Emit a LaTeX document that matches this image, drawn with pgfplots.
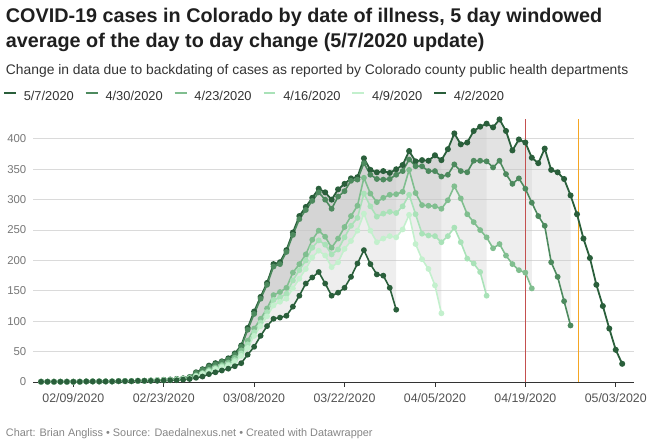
\documentclass[border=0pt]{standalone}
\usepackage{fontspec}
\setmainfont{Liberation Sans}
\usepackage{pgfplots}
\usepackage{pgfplotstable}
\pgfplotsset{compat=1.18}
\usepgfplotslibrary{fillbetween}

\definecolor{cA}{HTML}{2A5F3B}
\definecolor{cB}{HTML}{4D8A5E}
\definecolor{cC}{HTML}{80BE8F}
\definecolor{cD}{HTML}{A9E2B8}
\definecolor{cE}{HTML}{C3F0CD}
\definecolor{bandc}{HTML}{C8C8C8}
\definecolor{gridc}{HTML}{DADADA}
\definecolor{redl}{HTML}{C4504F}
\definecolor{lineorange}{RGB}{245,166,35}
\definecolor{labc}{HTML}{777777}
\definecolor{subc}{HTML}{333333}

% day number: 0 = 02/09/2020
\pgfplotstableread{
d v
-5 0.5
-4 0.5
-3 0.5
-2 0.5
-1 0.5
0 0.5
1 0.5
2 1
3 1
4 1
5 1
6 1
7 1.5
8 1.5
9 1.5
10 2
11 2
12 2.5
13 3
14 3.5
15 4
16 5
17 6
18 8
19 16
20 21
21 27
22 31
23 34
24 39
25 47
26 60
27 89
28 116
29 140
30 163
31 194
32 197
33 217
34 246
35 273
36 288
37 303
38 318
39 312
40 300
41 317
42 326
43 335
44 337
45 368
46 349
47 345
48 347
49 344
50 350
51 357
52 380
53 363
54 365
55 364
56 373
57 365
58 383
59 409
60 391
61 394
62 413
63 420
64 425
65 419
66 432
67 413
68 381
69 399
70 394
71 369
72 360
73 384
74 349
75 345
76 334
77 307
78 276
79 236
80 204
81 160
82 125
83 88
84 53
85 30
}\sMaySeven

\pgfplotstableread{
d v
-5 0.5
-4 0.5
-3 0.5
-2 0.5
-1 0.5
0 0.5
1 0.5
2 1
3 1
4 1
5 1
6 1
7 1.5
8 1.5
9 1.5
10 2
11 2
12 2.5
13 3
14 3.5
15 4
16 5
17 6
18 8
19 15
20 20
21 25
22 29
23 33
24 37
25 45
26 58
27 86
28 112
29 137
30 160
31 190
32 194
33 214
34 242
35 268
36 283
37 298
38 312
39 300
40 285
41 305
42 314
43 331
44 333
45 360
46 341
47 334
48 333
49 334
50 341
51 347
52 366
53 355
54 355
55 347
56 347
57 338
58 341
59 358
60 347
61 345
62 364
63 364
64 363
65 353
66 364
67 342
68 326
69 335
70 318
71 295
72 273
73 257
74 197
75 173
76 133
77 93
}\sAprThirty

\pgfplotstableread{
d v
-5 0.5
-4 0.5
-3 0.5
-2 0.5
-1 0.5
0 0.5
1 0.5
2 1
3 1
4 1
5 1
6 1
7 1.5
8 1.5
9 1.5
10 2
11 2
12 2.5
13 3
14 3
15 3.5
16 4.5
17 5
18 7
19 11
20 15
21 20
22 24
23 28
24 32
25 40
26 52
27 68
28 88
29 104
30 121
31 143
32 148
33 155
34 180
35 194
36 210
37 234
38 249
39 239
40 221
41 236
42 255
43 273
44 290
45 336
46 310
47 296
48 303
49 308
50 309
51 313
52 349
53 311
54 291
55 290
56 289
57 285
58 299
59 322
60 302
61 276
62 263
63 250
64 238
65 220
66 227
67 208
68 194
69 184
70 180
71 154
}\sAprTwentyThree

\pgfplotstableread{
d v
-5 0.5
-4 0.5
-3 0.5
-2 0.5
-1 0.5
0 0.5
1 0.5
2 1
3 1
4 1
5 1
6 1
7 1.5
8 1.5
9 1.5
10 2
11 2
12 2.5
13 3
14 3
15 3.5
16 4
17 5
18 6
19 10
20 14
21 18
22 22
23 26
24 29
25 36
26 47
27 62
28 82
29 98
30 115
31 135
32 139
33 145
34 167
35 184
36 200
37 221
38 233
39 226
40 210
41 218
42 238
43 257
44 270
45 310
46 289
47 272
48 277
49 280
50 278
51 289
52 308
53 276
54 244
55 241
56 240
57 230
58 240
59 254
60 230
61 203
62 195
63 181
64 142
}\sAprSixteen

\pgfplotstableread{
d v
-5 0.5
-4 0.5
-3 0.5
-2 0.5
-1 0.5
0 0.5
1 0.5
2 1
3 1
4 1
5 1
6 1
7 1.5
8 1.5
9 1.5
10 2
11 2
12 2.5
13 3
14 3
15 3.5
16 4
17 5
18 5
19 9
20 13
21 17
22 21
23 24
24 27
25 33
26 43
27 56
28 76
29 92
30 108
31 126
32 132
33 137
34 154
35 170
36 186
37 205
38 216
39 208
40 189
41 197
42 219
43 232
44 249
45 277
46 249
47 230
48 236
49 240
50 238
51 251
52 275
53 227
54 202
55 186
56 159
57 113
}\sAprNine

\pgfplotstableread{
d v
-5 0.5
-4 0.5
-3 0.5
-2 0.5
-1 0.5
0 0.5
1 0.5
2 1
3 1
4 1
5 1
6 1
7 1.5
8 1.5
9 1.5
10 2
11 2
12 2
13 2
14 2.5
15 3
16 3
17 4
18 5
19 7
20 9
21 13
22 16
23 19
24 22
25 26
26 31
27 45
28 58
29 76
30 92
31 104
32 106
33 109
34 124
35 142
36 162
37 172
38 181
39 162
40 142
41 147
42 155
43 173
44 195
45 217
46 194
47 177
48 175
49 155
50 119
}\sAprTwo

\begin{document}
\begin{tikzpicture}
\path (0pt,0pt) rectangle (650pt,450pt);

\node[anchor=base west, inner sep=0pt, font=\fontsize{20}{24}\selectfont\bfseries, text=black!88] at (0pt,427pt) {COVID-19 cases in Colorado by date of illness, 5 day windowed};
\node[anchor=base west, inner sep=0pt, font=\fontsize{20}{24}\selectfont\bfseries, text=black!88] at (0pt,402pt) {average of the day to day change (5/7/2020 update)};
\node[anchor=base west, inner sep=0pt, font=\fontsize{14}{16}\selectfont, text=subc] at (0pt,375pt) {Change in data due to backdating of cases as reported by Colorado county public health departments};
\node[anchor=base west, inner sep=0pt, font=\fontsize{11}{13}\selectfont, text=labc!90] at (0pt,9pt) {Chart: Brian Angliss • Source: Daedalnexus.net • Created with Datawrapper};

\begin{axis}[
  at={(28pt,64pt)}, anchor=south west,
  scale only axis, width=607pt, height=267.8pt,
  xmin=-6.18, xmax=86.86, ymin=0, ymax=436,
  axis lines*=left,
  axis line style={-},
  y axis line style={draw=none},
  x axis line style={draw=subc, line width=0.9pt},
  ytick={0,50,...,400},
  ytick style={draw=none},
  ymajorgrids,
  grid style={draw=gridc, line width=0.8pt},
  xtick={0,14,28,42,56,70,84},
  xticklabels={02/09/2020,02/23/2020,03/08/2020,03/22/2020,04/05/2020,04/19/2020,05/03/2020},
  xtick style={draw=subc, line width=0.8pt},
  tick align=outside,
  major tick length=5pt,
  /pgf/number format/assume math mode=true,
  yticklabel style={font=\fontsize{11.5}{12}\selectfont, text=labc, inner sep=2pt},
  xticklabel style={font=\fontsize{12.5}{14}\selectfont, text=subc!85, yshift=-3pt},
  legend style={at={(-0.056,1.0755)}, anchor=west, draw=none, fill=none,
    font=\fontsize{13}{14}\selectfont, text=subc,
    legend columns=-1,
    /tikz/every odd column/.append style={column sep=5pt},
    /tikz/every even column/.append style={column sep=9pt}},
  legend image code/.code={\draw[#1, line width=2pt] (0pt,4pt) -- (12pt,4pt);},
  ser/.style={line width=1.6pt, mark=*, mark size=2.1pt, forget plot},
]
% legend entries (images kept separate from the named paths)
\addlegendimage{cA}\addlegendentry{5/7/2020}
\addlegendimage{cB}\addlegendentry{4/30/2020}
\addlegendimage{cC}\addlegendentry{4/23/2020}
\addlegendimage{cD}\addlegendentry{4/16/2020}
\addlegendimage{cE}\addlegendentry{4/9/2020}
\addlegendimage{cA}\addlegendentry{4/2/2020}

% vertical markers
\addplot[redl, line width=0.9pt, mark=none, forget plot] coordinates {(70,0) (70,432)};
\addplot[lineorange, line width=1pt, mark=none, forget plot] coordinates {(78.2,0) (78.2,432)};

\addplot[name path=s57, cA, ser, line width=1.8pt] table[x=d, y=v] {\sMaySeven};
\addplot[name path=s430, cB, ser] table[x=d, y=v] {\sAprThirty};
\addplot[name path=s423, cC, ser] table[x=d, y=v] {\sAprTwentyThree};
\addplot[name path=s416, cD, ser] table[x=d, y=v] {\sAprSixteen};
\addplot[name path=s49, cE, ser] table[x=d, y=v] {\sAprNine};
\addplot[name path=s42, cA, ser] table[x=d, y=v] {\sAprTwo};

% shaded bands between the latest series and each earlier one
\addplot[fill=bandc, fill opacity=0.3, draw=none, forget plot] fill between[of=s57 and s430, soft clip={(axis cs:-5,0) rectangle (axis cs:77,440)}];
\addplot[fill=bandc, fill opacity=0.3, draw=none, forget plot] fill between[of=s57 and s423, soft clip={(axis cs:-5,0) rectangle (axis cs:71,440)}];
\addplot[fill=bandc, fill opacity=0.3, draw=none, forget plot] fill between[of=s57 and s416, soft clip={(axis cs:-5,0) rectangle (axis cs:64,440)}];
\addplot[fill=bandc, fill opacity=0.3, draw=none, forget plot] fill between[of=s57 and s49, soft clip={(axis cs:-5,0) rectangle (axis cs:57,440)}];
\addplot[fill=bandc, fill opacity=0.3, draw=none, forget plot] fill between[of=s57 and s42, soft clip={(axis cs:-5,0) rectangle (axis cs:50,440)}];
\end{axis}
\end{tikzpicture}
\end{document}
